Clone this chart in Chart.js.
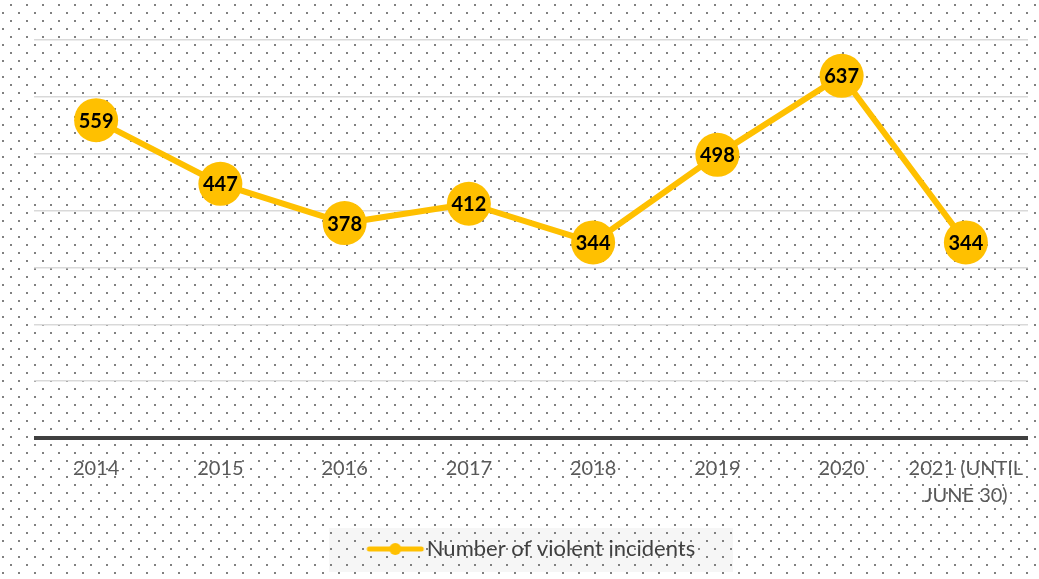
<!DOCTYPE html>
<html>
<head>
<meta charset="utf-8">
<script src="https://cdn.jsdelivr.net/npm/chart.js@4"></script>
<style>
  html, body { margin: 0; padding: 0; background: #ffffff; }
  #wrap { width: 1039px; height: 579px; position: relative; }
</style>
</head>
<body>
<div id="wrap"><canvas id="chart" width="1039" height="579"></canvas></div>
<script>
// Yearly counts of violent incidents
const categories = ['2014', '2015', '2016', '2017', '2018', '2019', '2020', ['2021 (UNTIL', 'JUNE 30)']];
const incidents = [559, 447, 378, 412, 344, 498, 637, 344];
const seriesName = 'Number of violent incidents';
const yMin = 0;
const yMax = 700;
const yStep = 100;

const GOLD = '#FFC000';

// Legend marker: a short line with a dot in the middle.
// The image is wider than the legend box so the line runs up to the text.
function legendMarker() {
  const c = document.createElement('canvas');
  c.width = 100; c.height = 14;
  const g = c.getContext('2d');
  g.strokeStyle = GOLD; g.lineWidth = 5; g.lineCap = 'round';
  g.beginPath(); g.moveTo(28, 7); g.lineTo(80, 7); g.stroke();
  g.fillStyle = GOLD;
  g.beginPath(); g.arc(54, 7, 6, 0, Math.PI * 2); g.fill();
  return c;
}

// Dotted paper background plus a soft panel behind the legend
const backdrop = {
  id: 'backdrop',
  beforeDraw(chart) {
    const ctx = chart.ctx;
    const w = chart.width, h = chart.height;
    ctx.save();
    ctx.fillStyle = '#ffffff';
    ctx.fillRect(0, 0, w, h);
    const lg = chart.legend;
    if (lg && lg.legendHitBoxes && lg.legendHitBoxes.length) {
      const hb = lg.legendHitBoxes[0];
      const cx = hb.left + hb.width / 2;
      const cy = hb.top + hb.height / 2;
      ctx.fillStyle = '#f6f6f6';
      ctx.fillRect(cx - 202, cy - 21, 404, 44);
    }
    ctx.fillStyle = '#808080';
    for (let j = 0; j * 8 + 5 < h + 8; j++) {
      for (let i = 0; i * 8 + 3 < w + 8; i++) {
        if ((i + j) % 2 === 1) {
          ctx.fillRect(i * 8 + 2, j * 8 + 4, 2, 2);
        }
      }
    }
    ctx.restore();
  }
};

// Value written inside each marker
const valueLabels = {
  id: 'valueLabels',
  afterDatasetsDraw(chart) {
    const ctx = chart.ctx;
    const meta = chart.getDatasetMeta(0);
    const data = chart.data.datasets[0].data;
    ctx.save();
    ctx.font = 'bold 20px Lato';
    ctx.fillStyle = '#000000';
    ctx.textAlign = 'center';
    ctx.textBaseline = 'middle';
    meta.data.forEach((pt, i) => {
      ctx.fillText(String(data[i]), pt.x, pt.y + 1);
    });
    ctx.restore();
  }
};

new Chart(document.getElementById('chart'), {
  type: 'line',
  data: {
    labels: categories,
    datasets: [{
      label: seriesName,
      data: incidents,
      borderColor: GOLD,
      backgroundColor: GOLD,
      borderWidth: 6,
      tension: 0,
      pointRadius: 22,
      pointHoverRadius: 22,
      pointBackgroundColor: GOLD,
      pointBorderWidth: 0,
      pointStyle: 'circle'
    }]
  },
  options: {
    responsive: false,
    animation: false,
    layout: { autoPadding: false, padding: { top: 40, left: 34, right: 11, bottom: 9 } },
    scales: {
      x: {
        offset: true,
        grid: { display: false },
        border: { display: false },
        afterFit(scale) {
          scale.paddingLeft = 0;
          scale.paddingRight = 0;
          scale.height += 6;
        },
        ticks: {
          color: '#595959',
          font: { family: 'Lato', size: 20, lineHeight: 1.35 },
          maxRotation: 0,
          autoSkip: false,
          padding: 9
        }
      },
      y: {
        min: yMin,
        max: yMax,
        ticks: { display: false, stepSize: yStep },
        border: { display: false },
        grid: {
          drawTicks: false,
          color: (c) => c.tick && c.tick.value === 0 ? '#404040' : '#d9d9d9',
          lineWidth: (c) => c.tick && c.tick.value === 0 ? 4 : 1.5
        }
      }
    },
    plugins: {
      legend: {
        position: 'bottom',
        labels: {
          color: '#404040',
          font: { family: 'Lato', size: 22 },
          usePointStyle: true,
          pointStyle: legendMarker(),
          pointStyleWidth: 49,
          boxHeight: 14,
          padding: 14
        }
      },
      tooltip: { enabled: false }
    }
  },
  plugins: [backdrop, valueLabels]
});
</script>
</body>
</html>
